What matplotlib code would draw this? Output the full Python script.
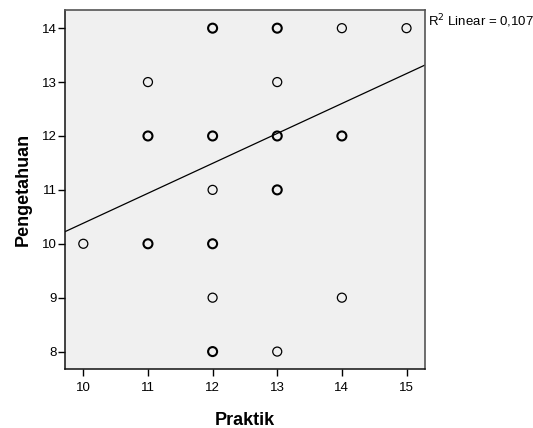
# Scatter Praktik vs Pengetahuan with linear fit line (SPSS look)

import numpy as np
import matplotlib
matplotlib.use("Agg")
import matplotlib.pyplot as plt

plt.rcParams["font.family"] = ["Liberation Sans", "DejaVu Sans"]

# ── Data (unique points + how many cases sit on each) ────────────────────────
praktik     = [10, 11, 11, 11, 12, 12, 12, 12, 12, 12, 13, 13, 13, 13, 13, 14, 14, 14, 15]
pengetahuan = [10, 13, 12, 10, 14, 12, 11, 10,  9,  8, 14, 13, 12, 11,  8, 14, 12,  9, 14]
jumlah      = [ 1,  1,  2,  2,  2,  3,  1,  2,  1,  2,  7,  1,  5,  2,  1,  1,  4,  1,  1]

x_ticks = [10, 11, 12, 13, 14, 15]
y_ticks = [8, 9, 10, 11, 12, 13, 14]
r2_label = "R$^2$ Linear = 0,107"

# ── Figure ───────────────────────────────────────────────────────────────────
fig = plt.figure(figsize=(5.33, 4.28), dpi=100)
ax = fig.add_axes([0.122, 0.137, 0.675, 0.840])
ax.set_facecolor("#F0F0F0")

x_all = np.repeat(praktik, jumlah)
y_all = np.repeat(pengetahuan, jumlah)

# duplicated cases look heavier in the original, so draw them thicker
lw = [1.5 if n > 1 else 0.9 for n in jumlah]
ax.scatter(praktik, pengetahuan, s=42, facecolors="none",
           edgecolors="black", linewidths=lw, zorder=3)

ax.set_xlim(9.717, 15.283)
ax.set_ylim(7.67, 14.34)

# least squares fit across the whole axis width
slope, intercept = np.polyfit(x_all, y_all, 1)
xl = np.array(ax.get_xlim())
ax.plot(xl, intercept + slope * xl, color="black", linewidth=0.9, zorder=2)

ax.set_xticks(x_ticks)
ax.set_yticks(y_ticks)
ax.tick_params(direction="out", length=5, width=1, color="black",
               labelsize=9.5)
ax.tick_params(axis="x", pad=4)
ax.tick_params(axis="y", pad=1)

for side in ["left", "bottom"]:
    ax.spines[side].set_color("#111111")
    ax.spines[side].set_linewidth(1.1)
for side in ["top", "right"]:
    ax.spines[side].set_color("#555555")
    ax.spines[side].set_linewidth(1.2)

ax.set_xlabel("Praktik", fontsize=13, fontweight="bold", labelpad=13)
ax.set_ylabel("Pengetahuan", fontsize=13, fontweight="bold", labelpad=7)

fig.text(0.803, 0.951, r2_label, fontsize=9.5, ha="left", va="center")

fig.savefig("out.png", dpi=100, facecolor="white")
